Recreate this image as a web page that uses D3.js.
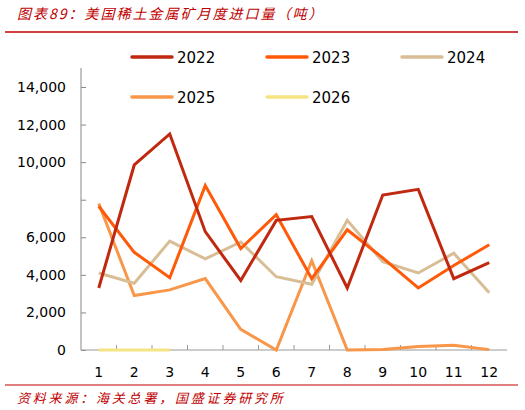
<!DOCTYPE html>
<html><head><meta charset="utf-8">
<script src="https://cdn.jsdelivr.net/npm/d3@7/dist/d3.min.js"></script>
<style>
html,body{margin:0;padding:0;background:#fff;}
svg{display:block;}
</style></head>
<body><svg id="c" width="525" height="410"></svg>
<script>
const months = ["1","2","3","4","5","6","7","8","9","10","11","12"];
const years = ["2022","2023","2024","2025","2026"];
const v2022 = [3300,9850,11500,6300,3700,6900,7100,3300,8250,8550,3800,4650];
const v2023 = [7650,5200,3850,8750,5400,7200,3800,6400,4900,3300,4500,5600];
const v2024 = [4100,3550,5800,4850,5750,3900,3500,6900,4700,4100,5150,3050];
const v2025 = [7800,2900,3200,3800,1100,0,4750,0,30,180,250,20];
const v2026 = [0,0,0];
const yTicks = [0,2000,4000,6000,8000,10000,12000,14000];
const yTickLabels = ["0","2,000","4,000","6,000","","10,000","12,000","14,000"];
const colors = ["#C0280F","#FF5A0A","#D8BD95","#F8964A","#F6E383"];
const seriesVals = [v2022,v2023,v2024,v2025,v2026];

const svg = d3.select("#c");
const font = "Verdana, 'DejaVu Sans', sans-serif";
const red = "#C00000";

// title
svg.append("text").attr("x",17).attr("y",19).attr("fill",red)
  .attr("font-family","'Noto Sans CJK SC', sans-serif").attr("font-style","italic")
  .attr("font-size",14).attr("letter-spacing",2).text("图表89：美国稀土金属矿月度进口量（吨）");
svg.append("line").attr("x1",5).attr("x2",518).attr("y1",32).attr("y2",32)
  .attr("stroke",red).attr("stroke-width",1.5);
// footer
svg.append("line").attr("x1",5).attr("x2",518).attr("y1",385).attr("y2",385)
  .attr("stroke",red).attr("stroke-width",1);
svg.append("text").attr("x",17).attr("y",403).attr("fill",red)
  .attr("font-family","'Noto Sans CJK SC', sans-serif").attr("font-style","italic")
  .attr("font-size",13).attr("letter-spacing",2.8).text("资料来源：海关总署，国盛证券研究所");

const x = d3.scaleBand().domain(months).range([81,507]);
const y = d3.scaleLinear().domain([0,14000]).range([350,87]);

// y axis
const ya = svg.append("g").attr("transform","translate(81,0)")
  .call(d3.axisRight(y).tickValues(yTicks).tickSize(5).tickFormat(""));
ya.select(".domain").attr("stroke","#888").attr("d","M0,68V350");
ya.selectAll(".tick line").attr("stroke","#888");
svg.append("g").selectAll("text").data(yTicks).join("text")
  .attr("x",66).attr("y",d=>y(d)+5).attr("text-anchor","end")
  .attr("font-family",font).attr("font-size",14).attr("fill","#000")
  .text((d,i)=>yTickLabels[i]);

// x axis
const xa = svg.append("g").attr("transform","translate(0,350)")
  .call(d3.axisTop(x).tickSize(0).tickFormat(""));
xa.select(".domain").attr("stroke","#999").attr("stroke-width",1.2).attr("d","M81,0H507");
xa.selectAll(".tick").remove();
svg.append("g").selectAll("line").data(months.slice(1)).join("line")
  .attr("x1",d=>x(d)).attr("x2",d=>x(d)).attr("y1",350).attr("y2",345)
  .attr("stroke","#999");
svg.append("g").selectAll("text").data(months).join("text")
  .attr("x",d=>x(d)+x.bandwidth()/2).attr("y",377).attr("text-anchor","middle")
  .attr("font-family",font).attr("font-size",14).attr("fill","#000").text(d=>d);

// lines
const line = d3.line().x((d,i)=>x(months[i])+x.bandwidth()/2).y(d=>y(d));
const order = [4,3,2,1,0];
order.forEach(k=>{
  svg.append("path").datum(seriesVals[k]).attr("d",line)
    .attr("fill","none").attr("stroke",colors[k]).attr("stroke-width",3)
    .attr("stroke-linejoin","miter");
});

// legend
const legPos = [[132,57],[267,57],[402,57],[132,97],[267,97]];
years.forEach((yr,i)=>{
  const [lx,ly] = legPos[i];
  svg.append("line").attr("x1",lx).attr("x2",lx+40).attr("y1",ly).attr("y2",ly)
    .attr("stroke",colors[i]).attr("stroke-width",3.5).attr("stroke-linecap","round");
  svg.append("text").attr("x",lx+45).attr("y",ly+6).attr("font-family",font)
    .attr("font-size",15).attr("fill","#000").text(yr);
});
</script></body></html>
